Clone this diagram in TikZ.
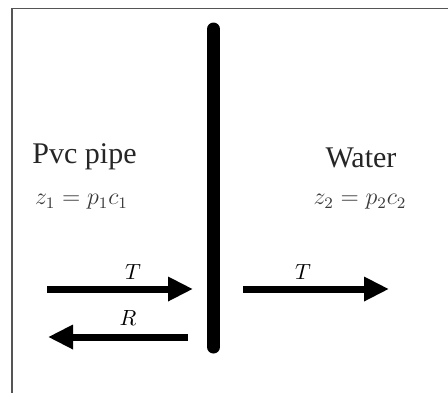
\documentclass[tikz,border=0pt]{standalone}
\usepackage{fontspec}
\setmainfont{Liberation Serif}
\usetikzlibrary{arrows.meta}
\definecolor{framegray}{HTML}{555555}
\definecolor{mathgray}{HTML}{3A3A3A}
\tikzset{
  bigarrow/.style={line width=3.5pt,-{Triangle[length=12.5pt,width=11.5pt]}},
  medium/.style={font=\fontsize{15}{18}\selectfont,text=black!85,inner sep=0pt},
  eq/.style={font=\fontsize{11.5}{14}\selectfont,text=mathgray,inner sep=0pt},
  lab/.style={font=\fontsize{11}{13}\selectfont,inner sep=0pt},
}
\begin{document}
\begin{tikzpicture}[x=0.5pt,y=-0.5pt]
\useasboundingbox (0,0) rectangle (448,392);
\fill[white] (0,0) rectangle (448,392);
\clip (0,0) rectangle (448,392);
\draw[framegray,line width=0.8pt] (12,8.5) rectangle (470,420);
% wall
\coordinate (wt) at (213.5,29);
\coordinate (wb) at (213.5,347);
\draw[line width=6.5pt,line cap=round] (wt) -- (wb);
% arrows
\coordinate (a1s) at (47,289);
\coordinate (a1e) at (193,289);
\coordinate (a2s) at (243,289);
\coordinate (a2e) at (389,289);
\coordinate (a3s) at (188,337);
\coordinate (a3e) at (48,337);
\draw[bigarrow] (a1s) -- (a1e);
\draw[bigarrow] (a2s) -- (a2e);
\draw[bigarrow] (a3s) -- (a3e);
% labels
\node[lab] (t1) at (133,272) {$T$};
\node[lab] (t2) at (303,272) {$T$};
\node[lab] (r1) at (128,318) {$R$};
\node[medium] (pvc) at (84.5,157) {Pvc pipe};
\node[medium] (water) at (361,158) {Water};
\node[eq] (z1) at (81.5,202) {$z_1 = p_1c_1$};
\node[eq] (z2) at (360,202) {$z_2 = p_2c_2$};
\end{tikzpicture}
\end{document}
